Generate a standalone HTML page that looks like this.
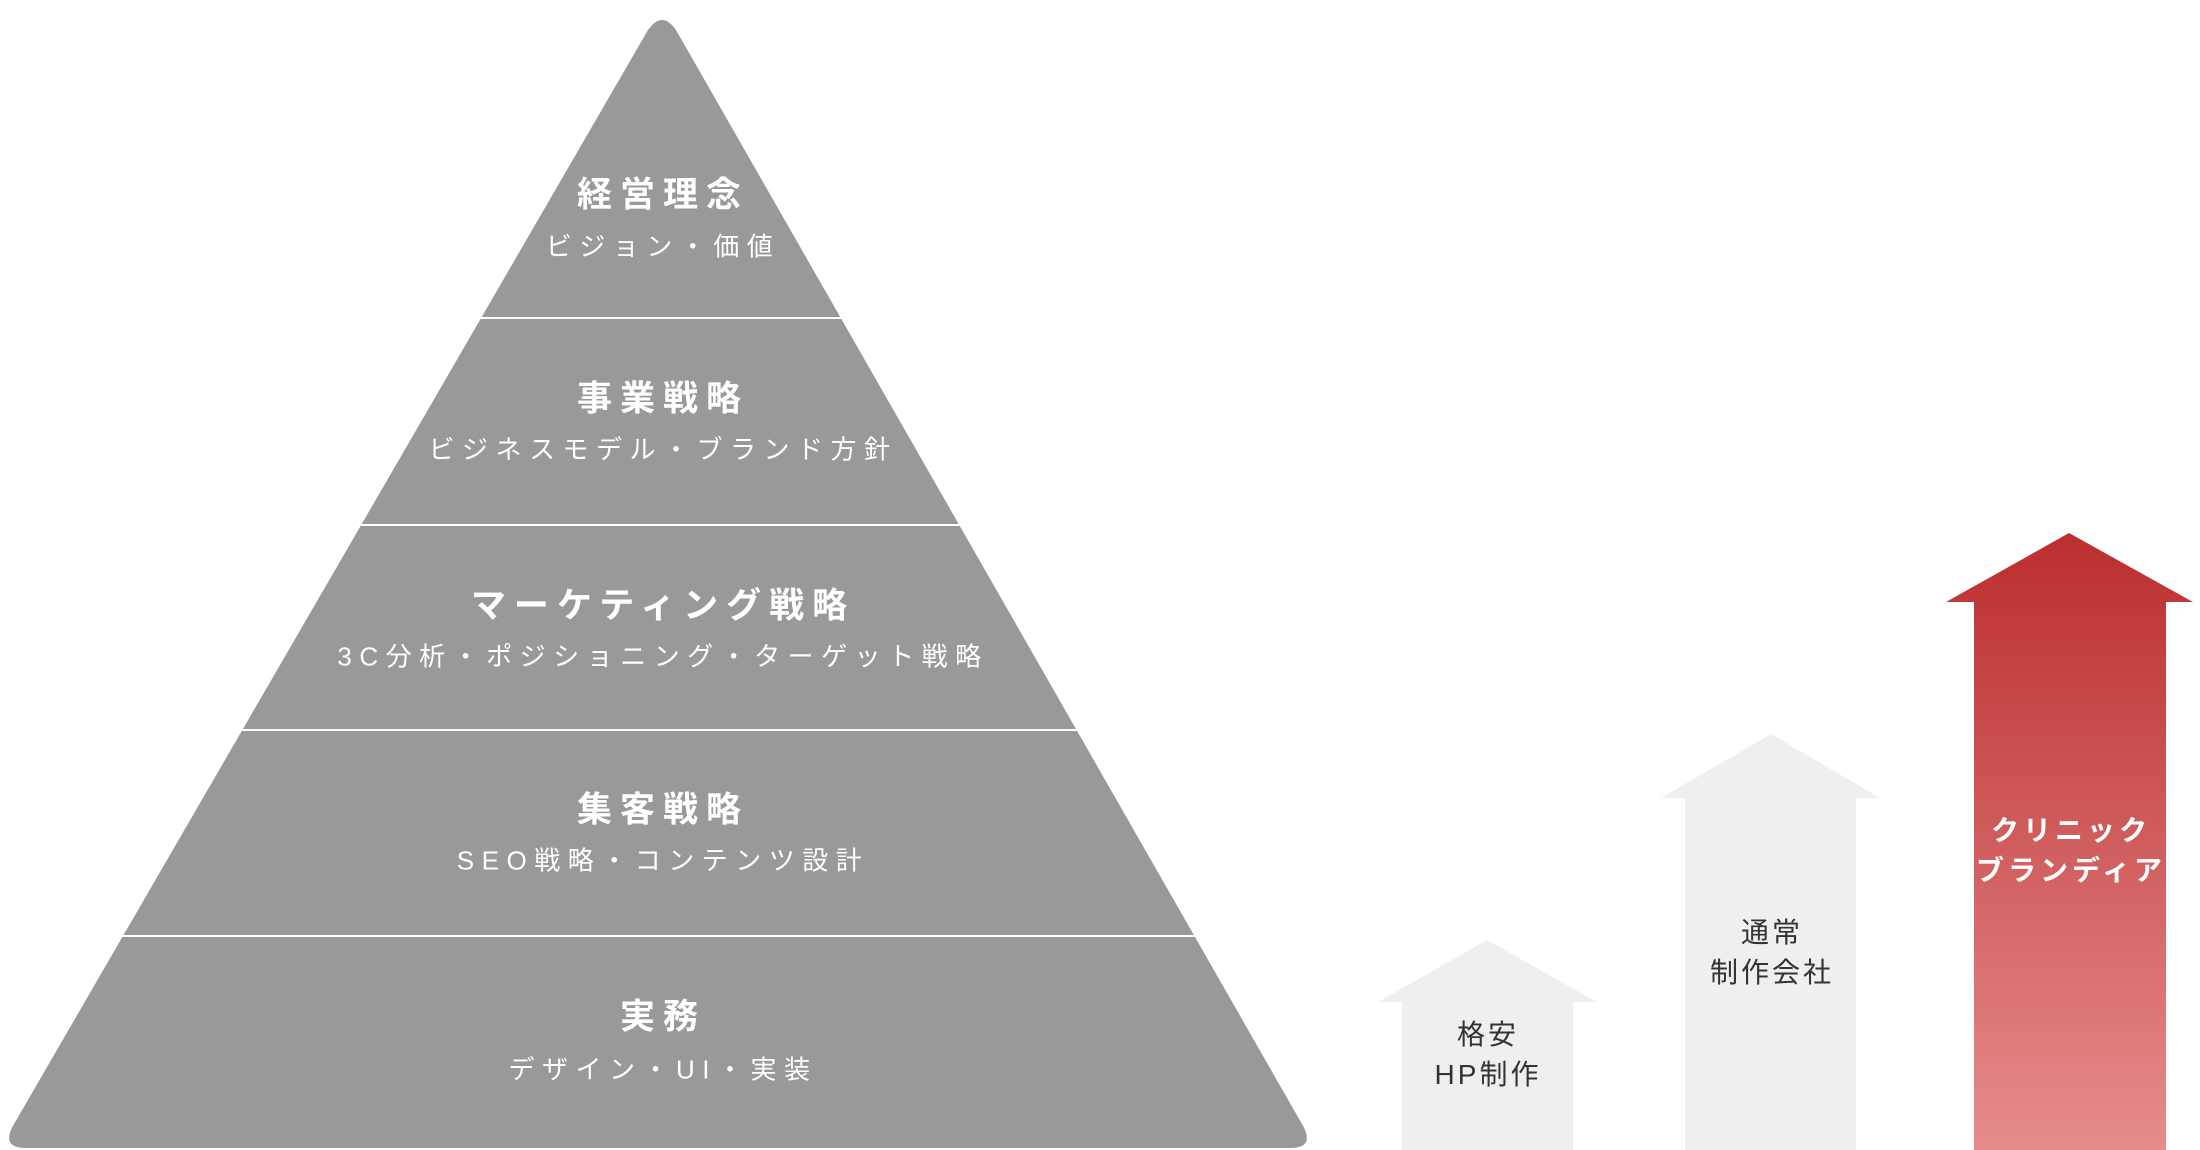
<!DOCTYPE html>
<html><head><meta charset="utf-8"><style>
html,body{margin:0;padding:0;background:#fff;}
#c{position:relative;width:2200px;height:1150px;overflow:hidden;font-family:"Liberation Sans","Noto Sans CJK JP",sans-serif;}
svg{position:absolute;left:0;top:0;}
.t{position:absolute;left:4px;width:1318px;text-align:center;color:#fff;white-space:nowrap;transform:translateY(-50%);}
.h{font-size:35px;font-weight:bold;letter-spacing:8px;}
.s{font-size:26px;letter-spacing:7.5px;}
.a{position:absolute;text-align:center;white-space:nowrap;transform:translate(-50%,-50%);font-size:28px;letter-spacing:3px;line-height:40px;}
</style></head><body><div id="c">
<svg width="2200" height="1150" viewBox="0 0 2200 1150">
<defs>
<linearGradient id="g" x1="0" y1="0" x2="0" y2="1">
<stop offset="0" stop-color="#bb2e2e"/><stop offset="1" stop-color="#e68c8c"/>
</linearGradient>
<clipPath id="pc"><path d="M648,30 Q662,10 676,30 L1302,1124 Q1316,1148 1290,1148 L26,1148 Q0,1148 14,1124 Z"/></clipPath>
</defs>
<path d="M648,30 Q662,10 676,30 L1302,1124 Q1316,1148 1290,1148 L26,1148 Q0,1148 14,1124 Z" fill="#999"/>
<g clip-path="url(#pc)" stroke="#fff" stroke-width="2">
<line x1="0" y1="318" x2="1320" y2="318"/>
<line x1="0" y1="525" x2="1320" y2="525"/>
<line x1="0" y1="730" x2="1320" y2="730"/>
<line x1="0" y1="936" x2="1320" y2="936"/>
</g>
<polygon points="1487,940 1597,1002 1573,1002 1573,1150 1402,1150 1402,1002 1378,1002" fill="#efefef"/>
<polygon points="1771,734 1880,798 1856,798 1856,1150 1685,1150 1685,798 1661,798" fill="#efefef"/>
<polygon points="2069,533 2193,602 2166,602 2166,1150 1974,1150 1974,602 1946,602" fill="url(#g)"/>
</svg>
<div class="t h" style="top:192px">経営理念</div>
<div class="t s" style="top:245px">ビジョン・価値</div>
<div class="t h" style="top:396px">事業戦略</div>
<div class="t s" style="top:448px">ビジネスモデル・ブランド方針</div>
<div class="t h" style="top:603px">マーケティング戦略</div>
<div class="t s" style="top:655px">3C分析・ポジショニング・ターゲット戦略</div>
<div class="t h" style="top:807px">集客戦略</div>
<div class="t s" style="top:859px">SEO戦略・コンテンツ設計</div>
<div class="t h" style="top:1014px">実務</div>
<div class="t s" style="top:1068px">デザイン・UI・実装</div>
<div class="a" style="left:1488px;top:1055px;color:#333">格安<br>HP制作</div>
<div class="a" style="left:1772px;top:953px;color:#333">通常<br>制作会社</div>
<div class="a" style="left:2071px;top:851px;color:#fff;font-weight:bold;letter-spacing:4px">クリニック<br>ブランディア</div>
</div></body></html>
